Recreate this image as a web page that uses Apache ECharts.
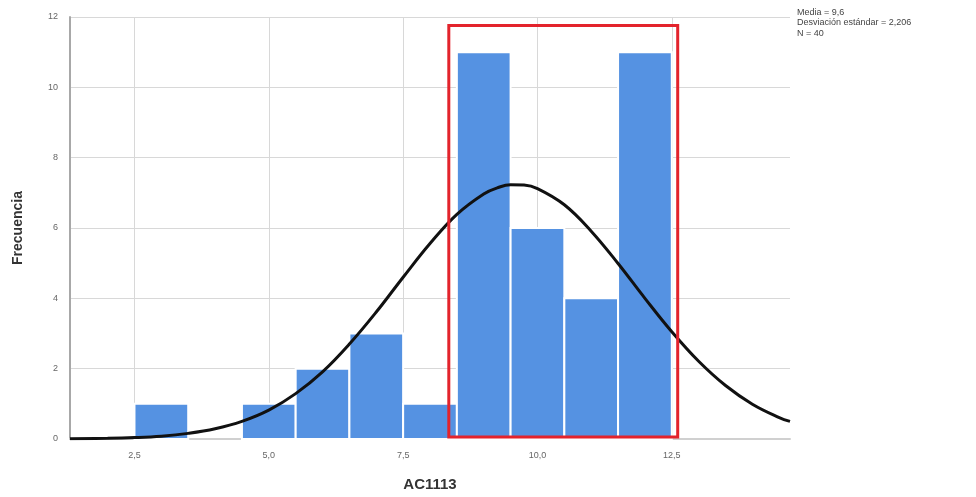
<!DOCTYPE html>
<html>
<head>
<meta charset="utf-8">
<script src="https://cdn.jsdelivr.net/npm/echarts@6/dist/echarts.min.js"></script>
<style>
  html, body { margin: 0; padding: 0; background: #fff; }
  #chart { width: 976px; height: 497px; }
</style>
</head>
<body>
<div id="chart"></div>
<script>
  // histograma AC1113
  var binCenters = [3, 5, 6, 7, 8, 9, 10, 11, 12];
  var binCounts = [1, 1, 2, 3, 1, 11, 6, 4, 11];
  var binWidth = 1;

  // curva normal
  var curveX = [1.3, 2, 2.5, 3, 3.5, 4, 4.5, 5, 5.5, 6, 6.5, 7, 7.5, 8, 8.5, 9, 9.25, 9.5, 9.75, 10, 10.5, 11, 11.5, 12, 12.5, 13, 13.5, 14, 14.5, 14.7];
  var curveY = [0.01, 0.02, 0.04, 0.08, 0.16, 0.29, 0.50, 0.82, 1.29, 1.91, 2.70, 3.61, 4.60, 5.56, 6.39, 6.97, 7.14, 7.23, 7.22, 7.12, 6.66, 5.91, 4.99, 4.00, 3.05, 2.21, 1.52, 0.99, 0.61, 0.50];

  var xTicks = [2.5, 5.0, 7.5, 10.0, 12.5];
  var statsLines = ['Media = 9,6', 'Desviación estándar = 2,206', 'N = 40'];
  // recuadro rojo: [x0, y0], [x1, y1]
  var highlightBox = [[8.35, 0.06], [12.61, 11.76]];

  var myCharts = echarts.init(document.getElementById('chart'));

  var barData = binCenters.map(function (c, i) { return [c, binCounts[i]]; });
  var curveData = curveX.map(function (x, i) { return [x, curveY[i]]; });

  var option = {
    animation: false,
    grid: { left: 70, right: 186, top: 17, bottom: 58 },
    xAxis: {
      type: 'value',
      min: 1.3,
      max: 14.7,
      name: 'AC1113',
      nameLocation: 'middle',
      nameGap: 38,
      nameTextStyle: { fontFamily: 'Liberation Sans', fontWeight: 'bold', fontSize: 15, color: '#333' },
      axisLine: { show: true, lineStyle: { color: '#d0d0d0', width: 2 } },
      axisTick: { show: false, customValues: xTicks },
      axisLabel: {
        customValues: xTicks,
        fontSize: 9,
        color: '#666',
        margin: 12,
        formatter: function (v) { return v.toFixed(1).replace('.', ','); }
      },
      splitLine: { show: true, lineStyle: { color: '#d8d8d8', width: 1 } }
    },
    yAxis: {
      type: 'value',
      min: 0,
      max: 12,
      interval: 2,
      name: 'Frecuencia',
      nameLocation: 'middle',
      nameGap: 45,
      nameTextStyle: { fontFamily: 'Liberation Sans', fontWeight: 'bold', fontSize: 14, color: '#333' },
      axisLine: { show: true, lineStyle: { color: '#a8a8a8', width: 2 } },
      axisTick: { show: false },
      axisLabel: { fontSize: 9, color: '#666', margin: 12 },
      splitLine: { show: true, lineStyle: { color: '#d8d8d8', width: 1 } }
    },
    series: [
      {
        type: 'custom',
        data: barData,
        z: 2,
        renderItem: function (params, api) {
          var c = api.value(0), n = api.value(1);
          var p0 = api.coord([c - binWidth / 2, n]);
          var p1 = api.coord([c + binWidth / 2, 0]);
          return {
            type: 'rect',
            shape: { x: p0[0], y: p0[1], width: p1[0] - p0[0], height: p1[1] - p0[1] },
            style: { fill: '#5592e2', stroke: '#ffffff', lineWidth: 2 }
          };
        }
      },
      {
        // solo para el recuadro rojo
        type: 'line',
        data: [],
        z: 4,
        markArea: {
          silent: true,
          z: 10,
          itemStyle: { color: 'rgba(0,0,0,0)', borderColor: '#e3232c', borderWidth: 3 },
          data: [[{ coord: highlightBox[0] }, { coord: highlightBox[1] }]]
        }
      },
      {
        type: 'line',
        data: curveData,
        smooth: 0.4,
        symbol: 'none',
        z: 5,
        lineStyle: { color: '#111', width: 3 }
      }
    ],
    graphic: statsLines.map(function (t, i) {
      return {
        type: 'text',
        left: 797,
        top: 8 + i * 10.5,
        style: { text: t, fontSize: 9, fill: '#444', fontFamily: 'Liberation Sans' }
      };
    })
  };

  myCharts.setOption(option);
</script>
</body>
</html>
